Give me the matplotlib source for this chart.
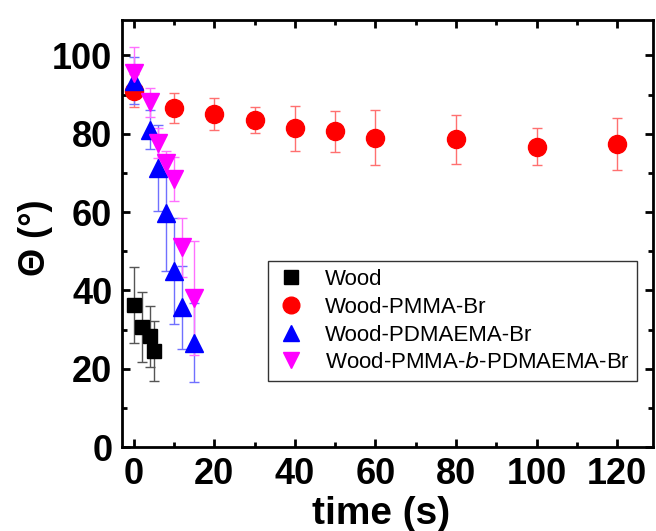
import matplotlib
matplotlib.use("Agg")
import matplotlib.pyplot as plt
from matplotlib.lines import Line2D
from matplotlib.ticker import MultipleLocator

plt.rcParams['font.family'] = ['Liberation Sans', 'DejaVu Sans']

# Wood
t_wood = [0, 2, 4, 5]
y_wood = [36.3, 30.7, 28.3, 24.6]
e_wood = [9.8, 8.9, 7.8, 7.7]

# Wood-PMMA-Br
t_pmma = [0, 10, 20, 30, 40, 50, 60, 80, 100, 120]
y_pmma = [91.0, 86.6, 85.1, 83.6, 81.4, 80.6, 79.0, 78.6, 76.7, 77.3]
e_pmma = [4.2, 3.9, 4.1, 3.3, 5.7, 5.2, 7.0, 6.3, 4.8, 6.6]

# Wood-PDMAEMA-Br
t_pd = [0, 4, 6, 8, 10, 12, 15]
y_pd = [93.5, 81.0, 71.2, 59.7, 45.0, 35.7, 26.7]
e_pd = [6.0, 5.0, 11.0, 14.7, 13.5, 10.6, 10.2]

# Wood-PMMA-b-PDMAEMA-Br
t_bl = [0, 4, 6, 8, 10, 12, 15]
y_bl = [95.6, 88.0, 77.6, 72.5, 68.5, 51.0, 38.0]
e_bl = [6.5, 3.8, 3.8, 3.0, 5.6, 7.5, 14.5]

labels = ['Wood', 'Wood-PMMA-Br', 'Wood-PDMAEMA-Br', 'Wood-PMMA-$\\mathit{b}$-PDMAEMA-Br']

fig = plt.figure(figsize=(6.56, 5.31), dpi=100)
ax = fig.add_axes([0.186, 0.158, 0.809, 0.804])

common = dict(linestyle='none', capsize=3.5, elinewidth=1.0, capthick=1.0)
ax.errorbar(t_wood, y_wood, yerr=e_wood, marker='s', ms=10, color='black',
            ecolor='#555555', **common)
ax.errorbar(t_pmma, y_pmma, yerr=e_pmma, marker='o', ms=13, color='#ff0000',
            ecolor='#ff7070', **common)
ax.errorbar(t_pd, y_pd, yerr=e_pd, marker='^', ms=13, color='#0000ff',
            ecolor='#7070ff', **common)
ax.errorbar(t_bl, y_bl, yerr=e_bl, marker='v', ms=13, color='#ff00ff',
            ecolor='#ff70ff', **common)

ax.set_xlim(-2.9, 128.8)
ax.set_ylim(0, 109)
ax.xaxis.set_major_locator(MultipleLocator(20))
ax.xaxis.set_minor_locator(MultipleLocator(10))
ax.yaxis.set_major_locator(MultipleLocator(20))
ax.yaxis.set_minor_locator(MultipleLocator(10))
ax.tick_params(which='both', direction='in', top=True, right=True, width=2)
ax.tick_params(which='major', length=6, labelsize=26)
ax.tick_params(axis='x', which='major', pad=7)
ax.tick_params(axis='y', which='major', pad=7)
ax.tick_params(which='minor', length=3.5)
for lab in ax.get_xticklabels() + ax.get_yticklabels():
    lab.set_fontweight('bold')
for s in ax.spines.values():
    s.set_linewidth(2)

ax.set_xlabel('time (s)', fontsize=28, fontweight='bold')
ax.xaxis.set_label_coords(0.488, -0.115)
ax.set_ylabel('Θ (°)', fontsize=26, fontweight='bold')
ax.yaxis.set_label_coords(-0.13, 0.49)

handles = [
    Line2D([], [], marker='s', color='black', ls='none', ms=10),
    Line2D([], [], marker='o', color='#ff0000', ls='none', ms=12),
    Line2D([], [], marker='^', color='#0000ff', ls='none', ms=12),
    Line2D([], [], marker='v', color='#ff00ff', ls='none', ms=12),
]
leg = ax.legend(handles, labels, loc='upper left', bbox_to_anchor=(0.275, 0.435),
                fontsize=16, frameon=True, fancybox=False, framealpha=1,
                edgecolor='#333333', handlelength=1.4, handletextpad=0.8,
                labelspacing=0.3, borderpad=0.35, borderaxespad=0)
leg.get_frame().set_linewidth(1.0)

fig.savefig('out.png', dpi=100)
